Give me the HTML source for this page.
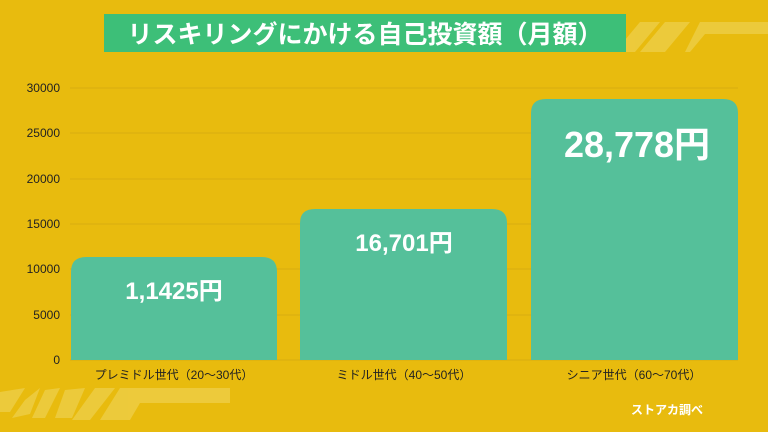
<!DOCTYPE html>
<html><head><meta charset="utf-8"><style>
body{margin:0;width:768px;height:432px;overflow:hidden;background:#E8BB0E;font-family:"Liberation Sans","Noto Sans CJK JP",sans-serif;}
</style></head><body>
<svg width="768" height="432" xmlns="http://www.w3.org/2000/svg" style="position:absolute;left:0;top:0">
<rect width="768" height="432" fill="#E8BB0E"/>
<g fill="#F0D45A" opacity="0.6">
<polygon points="640,22 660,22 635,52 615,52"/>
<polygon points="665,22 690,22 665,52 640,52"/>
<polygon points="700,22 768,22 768,34 705,34 690,52 685,52"/>
<polygon points="0,392 25,388 10,412 0,412"/>
<polygon points="25,400 40,388 30,414 12,418"/>
<polygon points="45,390 60,388 45,418 32,418"/>
<polygon points="65,390 85,388 72,418 55,418"/>
<polygon points="95,388 115,388 90,420 72,420"/>
<polygon points="120,388 230,388 230,403 140,403 130,420 100,420"/>
</g>
<g stroke="#D9AD10" stroke-width="1">
<line x1="70" y1="88" x2="738" y2="88"/><line x1="70" y1="133" x2="738" y2="133"/>
<line x1="70" y1="179" x2="738" y2="179"/><line x1="70" y1="224" x2="738" y2="224"/>
<line x1="70" y1="269" x2="738" y2="269"/><line x1="70" y1="315" x2="738" y2="315"/>
<line x1="70" y1="360" x2="738" y2="360"/>
</g>
<g font-size="12" fill="#222" text-anchor="end">
<text x="60" y="92">30000</text><text x="60" y="137">25000</text><text x="60" y="183">20000</text>
<text x="60" y="228">15000</text><text x="60" y="273">10000</text><text x="60" y="319">5000</text><text x="60" y="364">0</text>
</g>
<g fill="#55C09A">
<path d="M71,360 V272 Q71,257 86,257 H262 Q277,257 277,272 V360Z"/>
<path d="M300,360 V223 Q300,209 315,209 H492 Q507,209 507,223 V360Z"/>
<path d="M531,360 V113 Q531,99 546,99 H723 Q738,99 738,113 V360Z"/>
</g>
<g fill="#fff" font-weight="bold" text-anchor="middle">
<text x="174" y="299" font-size="24">1,1425円</text>
<text x="404" y="251" font-size="24">16,701円</text>
<text x="637" y="157" font-size="36">28,778円</text>
</g>
<g font-size="12" fill="#222" text-anchor="middle">
<text x="174" y="379">プレミドル世代（20～30代）</text>
<text x="404" y="379">ミドル世代（40～50代）</text>
<text x="634" y="379">シニア世代（60～70代）</text>
</g>
<text x="667" y="414" font-size="12" font-weight="bold" fill="#fff" text-anchor="middle">ストアカ調べ</text>
<rect x="104" y="14" width="522" height="38" fill="#3DBF78"/>
<text x="365" y="43" font-size="25" font-weight="bold" fill="#fff" text-anchor="middle">リスキリングにかける自己投資額（月額）</text>
</svg>
</body></html>
